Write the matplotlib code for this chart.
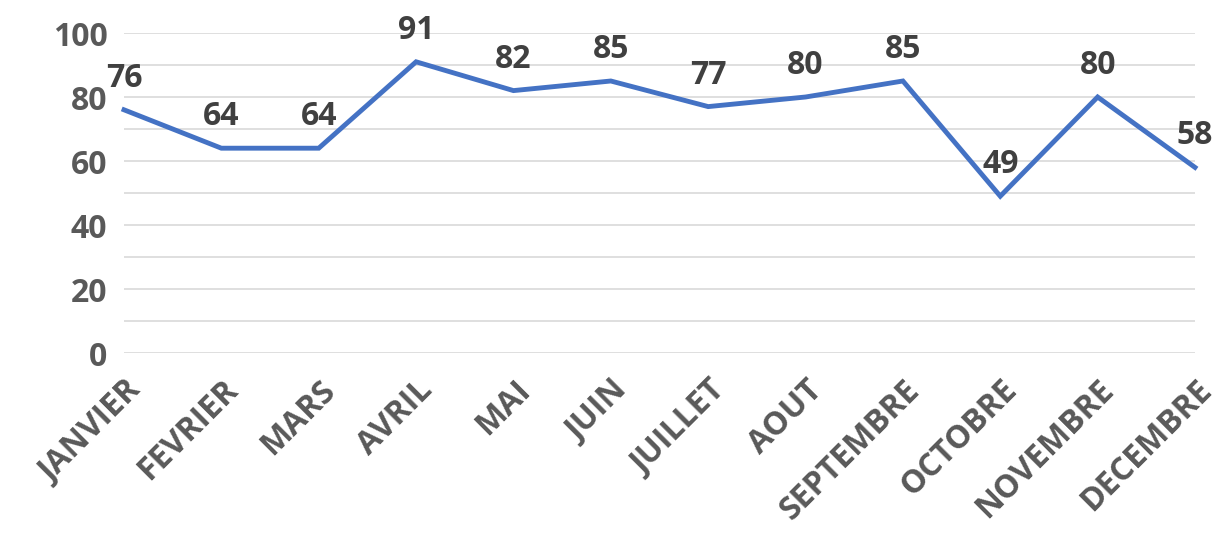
import matplotlib
matplotlib.use("Agg")
import matplotlib.pyplot as plt

months = ["JANVIER", "FEVRIER", "MARS", "AVRIL", "MAI", "JUIN", "JUILLET",
          "AOUT", "SEPTEMBRE", "OCTOBRE", "NOVEMBRE", "DECEMBRE"]
values = [76, 64, 64, 91, 82, 85, 77, 80, 85, 49, 80, 58]
y_ticks = [0, 20, 40, 60, 80, 100]

plt.rcParams['font.family'] = ['Open Sans', 'DejaVu Sans']

fig = plt.figure(figsize=(12.2, 5.4), dpi=100)
ax = fig.add_axes([124/1220, 1-353/540, (1195-124)/1220, (353-33)/540])

x = list(range(len(months)))
ax.plot(x, values, color='#4472C4', lw=3.5, solid_joinstyle='miter', zorder=3, clip_on=False)

for xi, v in zip(x, values):
    ax.annotate(str(v), (xi, v), xytext=(0, 15), textcoords='offset pixels',
                ha='center', va='bottom', fontsize=23, fontweight='bold',
                color='#404040', zorder=4, annotation_clip=False)

ax.set_xlim(0, len(months) - 1)
ax.set_ylim(0, 100)
ax.set_yticks(y_ticks)
ax.set_yticks(range(0, 101, 10), minor=True)
ax.grid(axis='y', which='both', color='#D9D9D9', lw=1.2)
ax.set_axisbelow(True)
ax.tick_params(axis='y', which='both', length=0, pad=12, labelsize=23, labelcolor='#595959')
for lbl in ax.get_yticklabels():
    lbl.set_fontweight('bold')

ax.set_xticks(x)
ax.set_xticklabels(months, rotation=45, ha='right', rotation_mode='anchor',
                   fontsize=23, fontweight='bold', color='#595959')
ax.tick_params(axis='x', length=0, pad=15)

for s in ax.spines.values():
    s.set_visible(False)

fig.savefig('out.png', dpi=100)
